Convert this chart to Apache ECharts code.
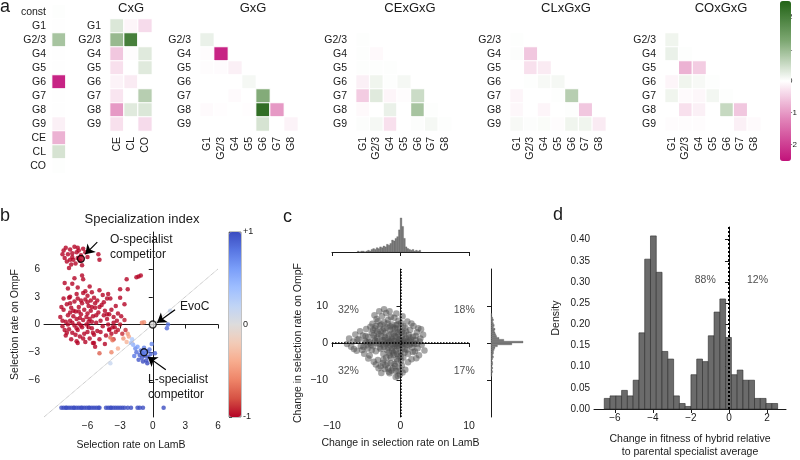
<!DOCTYPE html>
<html>
<head>
<meta charset="utf-8">
<script src="https://cdn.jsdelivr.net/npm/echarts@6/dist/echarts.min.js"></script>
<style>
  html, body { margin: 0; padding: 0; background: #fff; }
  #chart { width: 800px; height: 460px; }
</style>
</head>
<body>
<div id="chart"></div>
<script>
/* ---------------- panel a : model coefficients ---------------- */
const constRows = ['const', 'G1', 'G2/3', 'G4', 'G5', 'G6', 'G7', 'G8', 'G9', 'CE', 'CL', 'CO'];
const constVals = [0.02, 0.01, 0.85, 0.01, 0.01, -2.3, 0.01, 0.01, -0.15, -0.75, 0.4, 0.02];

const geneRows = ['G1', 'G2/3', 'G4', 'G5', 'G6', 'G7', 'G8', 'G9'];
const condCols = ['CE', 'CL', 'CO'];
const cxgVals = [
  [0.35, -0.1, -0.35],
  [1.0, 2.0, 0.0],
  [-0.55, -0.03, 0.3],
  [-0.3, 0.0, 0.3],
  [-0.12, -0.2, 0.0],
  [-0.25, 0.0, 0.7],
  [-1.0, 0.3, 0.35],
  [-0.3, 0.0, -0.35]
];

const pairRows = ['G2/3', 'G4', 'G5', 'G6', 'G7', 'G8', 'G9'];
const pairCols = ['G1', 'G2/3', 'G4', 'G5', 'G6', 'G7', 'G8'];
const gxgVals = [
  [0.2],
  [-0.03, -2.3],
  [-0.03, -0.04, -0.15],
  [0.0, 0.0, 0.0, 0.1],
  [0.0, 0.0, -0.05, 0.0, 1.2],
  [-0.05, -0.02, 0.0, -0.02, 2.3, -1.0],
  [0.0, 0.0, 0.0, 0.0, 0.4, 0.0, -0.12]
];
const cexgxgVals = [
  [0.02],
  [0.02, -0.06],
  [0.02, 0.02, 0.02],
  [-0.15, 0.15, 0.02, 0.1],
  [-0.5, 0.3, -0.1, -0.03, 0.5],
  [-0.06, 0.0, 0.2, 0.0, 0.85, 0.02],
  [0.03, 0.1, -0.3, 0.0, 0.03, 0.1, 0.02]
];
const clxgxgVals = [
  [0.02],
  [0.03, -0.55],
  [0.0, -0.3, -0.2],
  [0.0, 0.02, 0.08, 0.1],
  [-0.1, 0.0, 0.0, 0.02, 0.7],
  [-0.08, 0.0, -0.1, 0.0, 0.02, -0.55],
  [0.08, 0.03, 0.05, -0.03, 0.15, 0.15, -0.2]
];
const coxgxgVals = [
  [0.15],
  [0.2, 0.02],
  [0.0, -0.75, -0.5],
  [-0.1, 0.15, 0.08, 0.02],
  [0.15, -0.05, -0.08, 0.12, 0.02],
  [0.0, -0.3, -0.15, 0.0, 0.55, -0.55],
  [-0.03, -0.03, -0.03, 0.0, 0.0, -0.15, -0.05]
];
const coefTicks = [-2, -1, 0, 1, 2];

/* ---------------- panel b : selection rates [LamB, OmpF, index] ---------------- */
const bStrains = [
  // O-specialists, top group
  [-8.2, 8.0, -1], [-8.0, 8.3, -1], [-7.8, 7.6, -1], [-7.6, 8.1, -1], [-7.4, 7.3, -1], [-7.2, 8.4, -1],
  [-7.0, 7.8, -1], [-6.8, 8.0, -1], [-6.6, 7.5, -1], [-6.4, 8.2, -1], [-8.1, 7.2, -1], [-7.9, 6.8, -1],
  [-7.5, 6.5, -1], [-7.3, 7.0, -1], [-7.1, 6.6, -1], [-6.9, 7.2, -1], [-6.7, 6.9, -1], [-6.5, 6.4, -1],
  [-7.7, 6.1, -1], [-8.3, 7.6, -1], [-6.2, 7.8, -1], [-6.0, 7.3, -1], [-5.0, 7.6, -1], [-4.9, 7.0, -1],
  [-7.4, 7.7, -1], [-6.9, 8.3, -1], [-7.6, 7.0, -1],
  // middle band
  [-7.2, 5.0, -1], [-6.5, 5.3, -1], [-7.4, 4.4, -1], [-6.4, 4.9, -1], [-8.1, 4.5, -1], [-7.8, 3.9, -1],
  [-6.9, 4.0, -1], [-6.2, 3.6, -1], [-5.8, 4.1, -1], [-5.6, 3.5, -1], [-5.4, 2.9, -1], [-5.3, 2.3, -1],
  [-5.7, 2.6, -1], [-6.0, 3.1, -1], [-7.0, 3.3, -1], [-7.6, 3.0, -1], [-8.2, 2.8, -1], [-6.6, 2.6, -1],
  [-4.9, 3.7, -1], [-4.6, 3.2, -1], [-4.2, 2.8, -1], [-2.4, 4.9, -1], [-1.5, 5.1, -1], [-1.3, 5.2, -1],
  [-1.1, 5.3, -1], [-2.3, 3.8, -1], [-3.0, 3.8, -1], [-4.1, 3.3, -1], [-3.9, 2.8, -1], [-3.0, 2.9, -1],
  [-2.6, 2.2, -1], [-3.4, 2.0, -1], [-4.4, 1.5, -1], [-4.0, 1.1, -1],
  // main mass
  [-8.5, 0.8, -1], [-8.3, -0.2, -1], [-8.2, 1.6, -1], [-8.0, 0.3, -1], [-8.0, -1.2, -1], [-7.9, 2.2, -1],
  [-7.8, 1.0, -1], [-7.7, -0.5, -1], [-7.6, 0.4, -1], [-7.5, 1.8, -1], [-7.5, -1.6, -1], [-7.4, -0.9, -1],
  [-7.3, 0.9, -1], [-7.2, 2.5, -1], [-7.2, -0.1, -1], [-7.1, 1.4, -1], [-7.0, -1.8, -1], [-7.0, 0.6, -1],
  [-6.9, -0.6, -1], [-6.8, 1.9, -1], [-6.8, 0.1, -1], [-6.7, -1.3, -1], [-6.6, 1.1, -1], [-6.5, -0.3, -1],
  [-6.5, 2.3, -1], [-6.4, 0.5, -1], [-6.3, -1.0, -1], [-6.3, 1.6, -1], [-6.2, -1.9, -1], [-6.1, 0.0, -1],
  [-6.0, 1.2, -1], [-6.0, -0.8, -1], [-5.9, 2.0, -1], [-5.8, -1.5, -1], [-5.8, 0.6, -1], [-5.7, 1.5, -1],
  [-5.6, -0.4, -1], [-5.5, 0.9, -1], [-5.4, -1.1, -1], [-5.3, 1.8, -1], [-5.2, 0.2, -1], [-5.1, -0.7, -1],
  [-5.0, 1.3, -1], [-4.9, -1.6, -1], [-4.8, 0.4, -1], [-4.7, 2.1, -1], [-4.6, -0.2, -1], [-4.5, 1.0, -1],
  [-4.3, -1.2, -1], [-4.2, 0.6, -1], [-4.0, -0.5, -1], [-3.8, 1.6, -1], [-3.6, 0.2, -1], [-3.4, -0.8, -0.95],
  [-3.2, 1.2, -1], [-3.0, 0.0, -0.95], [-2.8, -1.0, -0.9], [-2.6, 0.5, -0.95], [-6.9, -2.0, -1], [-7.7, 2.9, -1],
  [-8.4, 1.9, -1], [-5.5, -2.0, -1], [-4.4, -2.1, -1], [-3.6, -1.6, -0.9], [-6.4, 3.4, -1], [-5.1, 2.6, -1],
  [-4.2, 1.1, -1], [-3.6, 0.8, -1], [-3.3, 0.4, -1], [-3.5, -0.3, -1], [-4.0, -0.6, -1], [-3.8, -1.0, -1],
  [-5.3, -2.4, -1], [-5.4, -2.0, -1], [-7.9, -0.9, -1], [-7.1, -1.1, -1], [-6.6, -0.1, -1], [-6.1, 0.8, -1],
  [-5.6, 0.3, -1], [-7.4, 0.2, -1], [-6.8, 1.4, -1], [-7.6, 1.3, -1], [-5.9, -0.3, -1], [-6.4, -1.5, -1],
  [-8.1, -0.6, -1], [-7.8, 0.0, -1], [-7.3, 1.5, -1], [-7.0, -0.4, -1], [-6.7, 0.7, -1], [-6.2, 2.7, -1],
  [-5.9, 0.3, -1], [-5.5, -0.9, -1], [-5.2, 1.0, -1], [-4.8, -0.8, -1], [-4.5, 2.4, -1], [-4.1, 0.0, -1],
  [-3.7, -0.3, -1], [-3.2, -0.6, -0.95], [-2.9, 0.9, -1], [-2.5, -0.6, -0.9], [-7.6, 2.3, -1], [-8.3, 0.4, -1],
  [-6.9, 2.8, -1], [-6.0, 2.4, -1], [-5.6, 1.9, -1], [-4.9, 1.9, -1],
  // intermediate strains
  [-1.0, 0.2, -0.6], [-0.8, 0.25, -0.55], [-2.3, -1.0, -0.5], [-2.2, -1.3, -0.45], [-3.9, -1.4, -0.7],
  [-3.7, -1.7, -0.65], [-3.2, -2.6, -0.4], [-2.4, -1.9, -0.35], [-1.9, -2.0, -0.2], [-3.8, -3.0, -0.6],
  [-3.9, -4.2, 0.15], [-2.7, -1.5, -0.5], [-4.9, -3.1, -0.75],
  // L-specialists
  [-1.8, -2.2, 0.5], [-1.6, -2.6, 0.7], [-1.5, -3.0, 0.85], [-1.4, -2.4, 0.6], [-1.2, -3.3, 0.9],
  [-1.1, -2.8, 0.8], [-1.0, -3.6, 0.95], [-0.9, -3.1, 0.9], [-0.8, -2.5, 0.75], [-0.7, -3.4, 0.95],
  [-0.6, -3.9, 1], [-0.5, -2.9, 0.85], [-0.4, -3.5, 0.95], [-0.3, -2.7, 0.8], [-0.2, -3.2, 0.9],
  [-0.1, -2.1, 0.7], [-1.3, -3.8, 0.95], [-0.9, -4.0, 1], [-1.7, -3.4, 0.8], [-0.5, -4.2, 1],
  [-2.0, -2.0, 0.35], [-1.9, -1.6, 0.3], [0.2, -3.1, 0.9], [1.4, 0.0, 0.8], [1.3, -0.4, 0.85], [1.6, 1.5, 0.15]
];
// strains without measurable OmpF growth, drawn on one row
const bNoOmpFLevel = -9;
const bNoOmpF = [-8.4, -8.2, -8.0, -7.9, -7.7, -7.5, -7.3, -7.2, -7.0, -6.8, -6.6, -6.5, -6.3, -6.1, -5.9,
  -5.8, -5.6, -5.4, -5.2, -5.0, -4.9, -4.3, -4.1, -3.9, -3.8, -3.6, -3.4, -3.2, -3.0, -2.8, -2.6, -2.3,
  -2.0, -1.4, -1.2, -0.9, 1.0];
const bMarked = [
  { name: 'O-specialist', x: -6.6, y: 7.1, s: -1 },
  { name: 'EvoC', x: 0.0, y: 0.0, s: 0 },
  { name: 'L-specialist', x: -0.8, y: -3.0, s: 1 }
];
const bTicks = [-6, -3, 0, 3, 6];

/* ---------------- panel c : change in selection rates [LamB, OmpF] ---------------- */
const cChanges = [
  [-7.8, -0.3], [-7.5, 1.2], [-7.2, -1.0], [-6.9, 0.4], [-6.6, 2.3], [-6.4, -2.1], [-6.1, 1.0], [-5.9, 3.2],
  [-5.8, -0.8], [-5.5, 2.0], [-5.3, -2.9], [-5.2, 0.6], [-5.0, 3.8], [-4.8, -1.5], [-4.7, 1.6], [-4.5, -3.4],
  [-4.4, 0.1], [-4.2, 2.8], [-4.1, 5.2], [-4.0, -0.9], [-3.9, -5.1], [-3.8, 1.3], [-3.7, 3.9], [-3.6, -2.2],
  [-3.5, 6.5], [-3.4, 0.5], [-3.3, -4.6], [-3.2, 2.4], [-3.1, 8.6], [-3.0, -1.2], [-3.0, 4.7], [-2.9, -6.3],
  [-2.8, 1.8], [-2.7, 7.2], [-2.6, -0.4], [-2.6, 3.3], [-2.5, -3.0], [-2.4, 5.6], [-2.3, -7.0], [-2.3, 0.9],
  [-2.2, 2.7], [-2.1, 8.1], [-2.0, -1.8], [-2.0, 4.2], [-1.9, -5.5], [-1.8, 0.2], [-1.8, 6.3], [-1.7, -2.6],
  [-1.7, 2.0], [-1.6, -8.2], [-1.5, 3.6], [-1.5, -0.7], [-1.4, 7.0], [-1.4, -4.0], [-1.3, 1.1], [-1.2, 5.0],
  [-1.2, -1.5], [-1.1, -6.8], [-1.0, 2.5], [-1.0, -3.2], [-0.9, 0.5], [-0.9, 6.8], [-0.8, -0.2], [-0.8, 3.9],
  [-0.7, -2.0], [-0.7, -7.6], [-0.6, 1.6], [-0.6, 4.8], [-0.5, -0.9], [-0.5, -5.0], [-0.4, 2.9], [-0.4, 0.1],
  [-0.3, -3.6], [-0.3, 6.0], [-0.2, 1.0], [-0.2, -1.4], [-0.1, -8.5], [-0.1, 3.4], [0.0, 0.3], [0.0, -2.5],
  [0.1, 5.4], [0.1, -0.5], [0.2, 1.8], [0.2, -6.1], [0.3, -1.1], [0.3, 7.2], [0.4, 0.7], [0.4, -3.9],
  [0.5, 2.6], [0.6, -0.2], [0.7, -7.2], [0.7, 4.1], [0.8, 1.3], [0.9, -1.8], [1.0, 0.4], [1.0, 5.8],
  [1.1, -2.9], [1.2, 2.2], [1.3, -0.6], [1.4, 3.5], [1.5, 0.9], [1.6, -4.4], [1.7, -1.2], [1.8, 1.7],
  [1.9, 4.6], [2.0, -0.3], [2.1, -2.3], [2.2, 0.8], [2.4, 2.9], [2.5, -1.4], [2.6, 4.0], [2.7, -3.3],
  [2.9, 1.2], [3.1, -0.5], [3.3, 2.2], [3.5, -2.0], [-3.6, -5.8], [-2.8, -8.1], [-2.2, -6.0], [-1.3, -7.4],
  [-0.4, -8.9], [-2.5, -4.5], [-3.2, -6.8], [-1.8, -6.9], [-0.9, -5.7], [-0.2, -6.6], [-4.4, 4.4], [-3.8, 7.5],
  [-2.4, 9.1], [-1.6, 8.6], [-0.6, 8.0], [-3.3, 5.9], [-4.7, -4.2], [-5.6, -1.9], [-6.8, -1.6], [-2.9, 3.1],
  [-1.9, 1.2], [-1.1, -0.4], [-0.3, -0.7], [0.5, 0.0], [1.4, -0.2], [-2.4, -1.0], [-3.5, -0.1], [-4.6, 0.3],
  [-5.1, 1.9], [-1.5, 4.5], [-0.5, 3.9], [0.8, 3.1], [-2.1, -3.9], [-1.2, -2.2], [0.1, -4.8], [1.1, -5.2],
  [-0.7, -9.2], [0.3, -8.0], [-1.9, -0.1], [-1.4, 0.6], [-0.9, -0.8], [-0.1, 0.9], [0.6, 1.0], [-2.7, 0.3],
  [-3.9, 2.1], [-4.9, -0.6], [2.3, -4.1], [3.0, 3.7], [1.6, 5.3], [-3.6, 4.6],
  [-5.0, 0.2], [-4.3, -0.4], [-3.7, 0.6], [-3.1, -0.2], [-2.6, 0.8], [-2.1, -0.3], [-1.6, 0.4], [-1.1, 0.9],
  [-0.6, -0.3], [-0.2, 0.5], [0.3, 0.2], [0.9, -0.4], [1.3, 0.5], [1.9, 0.1], [2.4, -0.2], [2.8, 0.4],
  [-3.4, 1.5], [-2.9, -1.6], [-2.3, 1.6], [-1.8, -1.2], [-1.3, 2.6], [-0.8, 1.9], [-0.3, 2.3], [0.2, 3.0],
  [0.6, -1.6], [-1.0, -2.6], [-0.5, -3.0], [0.0, -3.6], [-1.6, -3.4], [-2.4, 3.9], [-1.9, 5.3], [-1.1, 4.2],
  [-0.4, 5.1], [0.4, 4.6], [-2.8, 5.0], [-3.4, 3.1], [-1.4, -5.4], [-0.8, -6.2], [-0.3, -7.6], [-1.7, -7.8],
  [-2.6, -5.4], [-0.5, -4.3], [0.6, -2.6], [1.3, 1.5], [1.8, -2.4], [2.2, 1.9], [-4.2, -1.9], [-5.4, -1.1],
  [-6.3, 0.9], [-4.0, 3.5]
];
// marginal histogram of LamB change
const cLamBStart = -6.3, cLamBWidth = 0.25;
const cLamBCounts = [1, 0, 1, 1, 0, 1, 2, 1, 3, 4, 3, 5, 4, 6, 5, 7, 6, 9, 8, 10, 14, 13, 16, 18, 26, 40,
  30, 16, 6, 4, 3, 2, 3, 1, 2, 1, 2];
// marginal histogram of OmpF change
const cOmpFStart = -9, cOmpFWidth = 0.5;
const cOmpFCounts = [1, 1, 2, 1, 2, 1, 2, 2, 1, 2, 3, 2, 3, 3, 4, 5, 8, 26, 40, 16, 10, 7, 6, 5, 4, 5, 3, 4,
  3, 2, 3, 2, 1, 1];
const cQuadrants = [[-7.6, 8.8, '32%'], [9.3, 8.8, '18%'], [-7.6, -7.6, '32%'], [9.3, -7.6, '17%']];
const cTicks = [-10, 0, 10];

/* ---------------- panel d : hybrid fitness histogram ---------------- */
const dBinStart = -6.56, dBinWidth = 0.304;
const dDensity = [0.025, 0.031, 0.031, 0.044, 0.031, 0.068, 0.180, 0.354, 0.409, 0.323, 0.136, 0.118,
  0.031, 0.013, 0.006, 0.081, 0.118, 0.112, 0.173, 0.229, 0.260, 0.169, 0.081, 0.092, 0.068, 0.068,
  0.025, 0.025, 0.013, 0.013];
const dShares = [[-1.25, 0.305, '88%'], [1.5, 0.305, '12%']];
const dXTicks = [-6, -4, -2, 0, 2];
const dYTicks = [0, 0.05, 0.1, 0.15, 0.2, 0.25, 0.3, 0.35, 0.4];

/* -------------------------------------------------------------------------- */

const FONT = 'Liberation Sans, Arial, Helvetica, sans-serif';
const INK = '#1a1a1a';
const minus = v => String(v).replace('-', '\u2212');

const chart = echarts.init(document.getElementById('chart'), null, { renderer: 'canvas' });

const matrixData = vals => {
  const out = [];
  vals.forEach((row, r) => row.forEach((v, c) => out.push([c, r, v])));
  return out;
};

// heatmap grids: [left, top, width, height, cols, rows, showXLabels]
const heatGrids = [
  [52, 5, 13.5, 168, [''], constRows, false],
  [110, 19, 42, 112, condCols, geneRows, true],
  [200, 33, 98, 98, pairCols, pairRows, true],
  [356, 33, 96, 98, pairCols, pairRows, true],
  [510, 33, 96, 98, pairCols, pairRows, true],
  [665, 33, 96, 98, pairCols, pairRows, true]
];
const heatData = [
  constVals.map((v, r) => [0, r, v]),
  matrixData(cxgVals),
  matrixData(gxgVals),
  matrixData(cexgxgVals),
  matrixData(clxgxgVals),
  matrixData(coxgxgVals)
];

const grids = [];
const xAxes = [];
const yAxes = [];
const series = [];

heatGrids.forEach(([left, top, width, height, cols, rows, showX], i) => {
  grids.push({ left, top, width, height });
  xAxes.push({
    gridIndex: i, type: 'category', data: cols,
    axisLine: { show: false }, axisTick: { show: false }, splitLine: { show: false },
    axisLabel: { show: showX, rotate: 90, fontSize: 10.5, color: INK, margin: 6, interval: 0 }
  });
  yAxes.push({
    gridIndex: i, type: 'category', data: rows, inverse: true,
    axisLine: { show: false }, axisTick: { show: false }, splitLine: { show: false },
    axisLabel: { fontSize: 10.5, color: INK, margin: i === 0 ? 6 : 9, interval: 0 }
  });
  series.push({
    type: 'heatmap', xAxisIndex: i, yAxisIndex: i, data: heatData[i],
    itemStyle: { borderColor: '#fff', borderWidth: 1.2 },
    emphasis: { disabled: true }
  });
});

// 6: colourbar axis of panel a
grids.push({ left: 780, top: 1, width: 11, height: 160 });
xAxes.push({ gridIndex: 6, type: 'value', show: false, min: 0, max: 1 });
yAxes.push({
  gridIndex: 6, type: 'value', position: 'right', min: -2.5, max: 2.5,
  axisLine: { show: false }, splitLine: { show: false },
  axisTick: { show: true, length: 3, customValues: coefTicks, lineStyle: { color: '#444', width: 0.8 } },
  axisLabel: { customValues: coefTicks, fontSize: 8, color: INK, margin: 3, formatter: minus }
});

// 7: panel b scatter
const axisLineStyle = { color: INK, width: 1 };
grids.push({ left: 44, top: 232, width: 174, height: 185 });
xAxes.push({
  gridIndex: 7, type: 'value', min: -10, max: 6,
  name: 'Selection rate on LamB', nameLocation: 'middle', nameGap: 23,
  nameTextStyle: { fontSize: 10.5, color: INK },
  axisLine: { lineStyle: axisLineStyle }, splitLine: { show: false },
  axisTick: { customValues: bTicks, length: 4, lineStyle: axisLineStyle },
  axisLabel: { customValues: bTicks, fontSize: 10, color: INK, margin: 4, formatter: minus }
});
yAxes.push({
  gridIndex: 7, type: 'value', min: -10, max: 10,
  name: 'Selection rate on OmpF', nameLocation: 'middle', nameGap: 23,
  nameTextStyle: { fontSize: 10.5, color: INK },
  axisLine: { lineStyle: axisLineStyle }, splitLine: { show: false },
  axisTick: { customValues: bTicks, length: 4, lineStyle: axisLineStyle },
  axisLabel: { customValues: bTicks, fontSize: 10, color: INK, margin: 4, formatter: minus }
});

// 8: colourbar axis of panel b
const specTicks = [-1, 0, 1];
grids.push({ left: 229, top: 232, width: 12, height: 185, show: true, borderColor: '#333', borderWidth: 0.6 });
xAxes.push({ gridIndex: 8, type: 'value', show: false, min: 0, max: 1 });
yAxes.push({
  gridIndex: 8, type: 'value', position: 'right', min: -1, max: 1,
  axisLine: { show: false }, splitLine: { show: false },
  axisTick: { show: true, length: 3, customValues: specTicks, lineStyle: { color: '#333', width: 0.8 } },
  axisLabel: {
    customValues: specTicks, fontSize: 9, color: INK, margin: 2,
    formatter: v => (v > 0 ? '+1' : v < 0 ? '-1' : '0')
  }
});

// 9: panel c main scatter
grids.push({ left: 332, top: 269, width: 137, height: 148 });
xAxes.push({
  gridIndex: 9, type: 'value', min: -10, max: 10,
  name: 'Change in selection rate on LamB', nameLocation: 'middle', nameGap: 21,
  nameTextStyle: { fontSize: 10.5, color: INK },
  axisLine: { lineStyle: axisLineStyle }, splitLine: { show: false },
  axisTick: { customValues: cTicks, length: 4, lineStyle: axisLineStyle },
  axisLabel: { customValues: cTicks, fontSize: 10.5, color: INK, margin: 4, formatter: minus }
});
yAxes.push({
  gridIndex: 9, type: 'value', min: -20, max: 20,
  name: 'Change in selection rate on OmpF', nameLocation: 'middle', nameGap: 28,
  nameTextStyle: { fontSize: 10.5, color: INK },
  axisLine: { lineStyle: axisLineStyle }, splitLine: { show: false },
  axisTick: { customValues: cTicks, length: 4, lineStyle: axisLineStyle },
  axisLabel: { customValues: cTicks, fontSize: 10.5, color: INK, margin: 4, formatter: minus }
});

// 10: panel c top marginal
grids.push({ left: 332, top: 212, width: 137, height: 40 });
xAxes.push({
  gridIndex: 10, type: 'value', min: -10, max: 10,
  axisLine: { lineStyle: axisLineStyle }, splitLine: { show: false },
  axisTick: { customValues: cTicks, length: 4, lineStyle: axisLineStyle },
  axisLabel: { show: false }
});
yAxes.push({ gridIndex: 10, type: 'value', min: 0, max: 47, show: false });

// 11: panel c right marginal
grids.push({ left: 491, top: 269, width: 40, height: 148 });
xAxes.push({ gridIndex: 11, type: 'value', min: 0, max: 50, show: false });
yAxes.push({
  gridIndex: 11, type: 'value', min: -20, max: 20,
  axisLine: { lineStyle: axisLineStyle }, splitLine: { show: false },
  axisTick: { customValues: cTicks, length: 4, lineStyle: axisLineStyle },
  axisLabel: { show: false }
});

// 12: panel d histogram
grids.push({ left: 594, top: 227, width: 192, height: 191 });
xAxes.push({
  gridIndex: 12, type: 'value', min: -7.1, max: 3.0,
  name: 'Change in fitness of hybrid relative\nto parental specialist average',
  nameLocation: 'middle', nameGap: 24,
  nameTextStyle: { fontSize: 10.5, color: INK, lineHeight: 13, verticalAlign: 'top' },
  axisLine: { lineStyle: axisLineStyle }, splitLine: { show: false },
  axisTick: { customValues: dXTicks, length: 4, lineStyle: axisLineStyle },
  axisLabel: { customValues: dXTicks, fontSize: 10, color: INK, margin: 4, formatter: minus }
});
yAxes.push({
  gridIndex: 12, type: 'value', min: 0, max: 0.43,
  name: 'Density', nameLocation: 'middle', nameGap: 32,
  nameTextStyle: { fontSize: 10.5, color: INK },
  axisLine: { lineStyle: axisLineStyle }, splitLine: { show: false },
  axisTick: { customValues: dYTicks, length: 4, lineStyle: axisLineStyle },
  axisLabel: { customValues: dYTicks, fontSize: 10, color: INK, margin: 4, formatter: v => v.toFixed(2) }
});

/* ---- series for panels b-d ---- */
const arrowLine = { color: '#000', width: 1.2, type: 'solid' };

// 6: panel b strains (coloured by specialization index)
series.push({
  type: 'scatter', xAxisIndex: 7, yAxisIndex: 7, symbolSize: 4.5,
  data: bStrains.concat(bNoOmpF.map(x => [x, bNoOmpFLevel, 1])),
  emphasis: { disabled: true },
  markLine: {
    silent: true, symbol: 'none', label: { show: false },
    lineStyle: { color: '#9a9a9a', width: 0.8, type: 'dotted' },
    data: [[{ coord: [-10, -10] }, { coord: [6, 6] }]]
  }
});
// 7: marked strains with arrows
series.push({
  type: 'scatter', xAxisIndex: 7, yAxisIndex: 7, symbolSize: 7, z: 5,
  data: bMarked.map(d => ({
    value: [d.x, d.y],
    itemStyle: {
      color: d.s < 0 ? '#b40426' : d.s > 0 ? '#5977e3' : '#dddcdc',
      borderColor: '#000', borderWidth: 1.3
    }
  })),
  emphasis: { disabled: true },
  markLine: {
    silent: true, symbol: ['none', 'arrow'], symbolSize: 9, label: { show: false },
    lineStyle: arrowLine,
    data: [
      [{ coord: [-5.1, 8.9] }, { coord: [-6.2, 7.6] }],
      [{ coord: [2.05, 1.6] }, { coord: [0.4, 0.2] }],
      [{ coord: [1.2, -4.9] }, { coord: [-0.45, -3.5] }]
    ]
  }
});
// 8: panel c scatter
series.push({
  type: 'scatter', xAxisIndex: 9, yAxisIndex: 9, symbolSize: 6.5,
  data: cChanges,
  itemStyle: { color: '#4d4d4d', opacity: 0.5 },
  emphasis: { disabled: true },
  markLine: {
    silent: true, symbol: 'none', label: { show: false },
    lineStyle: { color: '#000', width: 1.5, type: 'dotted' },
    data: [{ xAxis: 0 }, { yAxis: 0 }]
  }
});
// 9: panel c quadrant shares
series.push({
  type: 'scatter', xAxisIndex: 9, yAxisIndex: 9, symbolSize: 0, z: 6,
  data: cQuadrants,
  label: { show: true, position: 'inside', formatter: p => p.value[2], fontSize: 10.5, color: INK },
  emphasis: { disabled: true }
});

const histBars = (start, width, counts) => counts.map((c, i) => [start + i * width, start + (i + 1) * width, c]);

// 10: panel c top marginal histogram
series.push({
  type: 'custom', xAxisIndex: 10, yAxisIndex: 10,
  data: histBars(cLamBStart, cLamBWidth, cLamBCounts),
  renderItem: (params, api) => {
    const p0 = api.coord([api.value(0), 0]);
    const p1 = api.coord([api.value(1), api.value(2)]);
    return {
      type: 'rect',
      shape: { x: p0[0], y: p1[1], width: p1[0] - p0[0], height: p0[1] - p1[1] },
      style: { fill: '#7a7a7a', stroke: '#5a5a5a', lineWidth: 0.3 }
    };
  }
});
// 11: panel c right marginal histogram
series.push({
  type: 'custom', xAxisIndex: 11, yAxisIndex: 11,
  data: histBars(cOmpFStart, cOmpFWidth, cOmpFCounts),
  renderItem: (params, api) => {
    const p0 = api.coord([0, api.value(0)]);
    const p1 = api.coord([api.value(2), api.value(1)]);
    return {
      type: 'rect',
      shape: { x: p0[0], y: p1[1], width: p1[0] - p0[0], height: p0[1] - p1[1] },
      style: { fill: '#7a7a7a', stroke: '#5a5a5a', lineWidth: 0.3 }
    };
  }
});
// 12: panel d histogram
series.push({
  type: 'custom', xAxisIndex: 12, yAxisIndex: 12,
  data: histBars(dBinStart, dBinWidth, dDensity),
  renderItem: (params, api) => {
    const p0 = api.coord([api.value(0), 0]);
    const p1 = api.coord([api.value(1), api.value(2)]);
    return {
      type: 'rect',
      shape: { x: p0[0], y: p1[1], width: p1[0] - p0[0], height: p0[1] - p1[1] },
      style: { fill: '#6b6b6b', stroke: '#2b2b2b', lineWidth: 0.6 }
    };
  },
  markLine: {
    silent: true, symbol: 'none', label: { show: false },
    lineStyle: { color: '#000', width: 2, type: 'dotted' },
    data: [{ xAxis: 0 }]
  }
});
// 13: panel d shares
series.push({
  type: 'scatter', xAxisIndex: 12, yAxisIndex: 12, symbolSize: 0,
  data: dShares,
  label: { show: true, position: 'inside', formatter: p => p.value[2], fontSize: 10.5, color: INK },
  emphasis: { disabled: true }
});

/* ---- free text ---- */
const txt = (text, x, y, size, align) => ({
  type: 'text', x, y, silent: true,
  style: {
    text, fontSize: size, fontFamily: FONT, fill: INK,
    align: align || 'left', verticalAlign: 'middle'
  }
});

const graphic = [
  txt('a', 0, 7, 18),
  txt('b', 0, 216, 18),
  txt('c', 283, 217, 18),
  txt('d', 553, 215, 18),
  txt('CxG', 131, 8, 13, 'center'),
  txt('GxG', 253, 8, 13, 'center'),
  txt('CExGxG', 410, 8, 13, 'center'),
  txt('CLxGxG', 566, 8, 13, 'center'),
  txt('COxGxG', 721, 8, 13, 'center'),
  txt('Specialization index', 142, 219, 13, 'center'),
  txt('O-specialist', 110, 240, 12),
  txt('competitor', 110, 255, 12),
  txt('EvoC', 180, 307, 12),
  txt('L-specialist', 148, 380, 12),
  txt('competitor', 148, 395, 12)
];

chart.setOption({
  animation: false,
  backgroundColor: '#fff',
  textStyle: { fontFamily: FONT },
  grid: grids,
  xAxis: xAxes,
  yAxis: yAxes,
  visualMap: [
    {
      type: 'continuous', seriesIndex: [0, 1, 2, 3, 4, 5], min: -2.5, max: 2.5,
      left: 780, top: 1, itemWidth: 11, itemHeight: 160, padding: 0,
      calculable: false, hoverLink: false, text: null, textGap: 0,
      inRange: { color: ['#c2127a', '#e07fb6', '#ffffff', '#7ea873', '#226316'] }
    },
    {
      type: 'continuous', seriesIndex: [6], dimension: 2, min: -1, max: 1,
      left: 229, top: 232, itemWidth: 12, itemHeight: 185, padding: 0,
      calculable: false, hoverLink: false, text: null,
      inRange: {
        color: ['#b40426', '#d65244', '#ee8468', '#f7ac8e', '#f2cbb7', '#dddcdc',
          '#c0d4f5', '#9ebeff', '#7b9ff9', '#5977e3', '#3b4cc0']
      }
    }
  ],
  graphic,
  series
});
</script>
</body>
</html>
